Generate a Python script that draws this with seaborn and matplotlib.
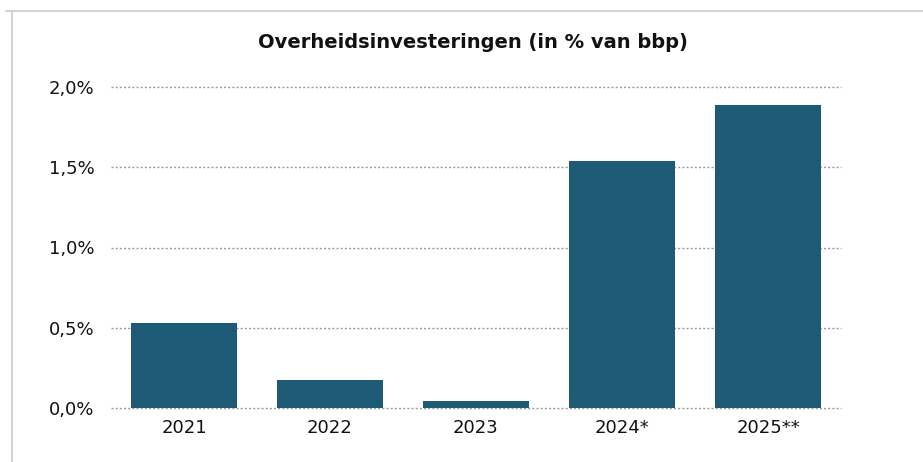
"""Overheidsinvesteringen (in % van bbp) - bar chart"""

import pandas as pd
import seaborn as sns
import matplotlib.pyplot as plt
from matplotlib.lines import Line2D
from matplotlib.ticker import FuncFormatter

years = ["2021", "2022", "2023", "2024*", "2025**"]
invest_pct = [0.53, 0.175, 0.044, 1.54, 1.89]
y_ticks = [0.0, 0.5, 1.0, 1.5, 2.0]

df = pd.DataFrame({"jaar": years, "pct": invest_pct})

sns.set_theme(style="whitegrid")
plt.rcParams["font.family"] = ["DejaVu Sans"]

fig = plt.figure(figsize=(9.23, 4.62), dpi=100)
ax = fig.add_axes([111 / 923, 1 - 408 / 462, 730 / 923, 321 / 462])

sns.barplot(data=df, x="jaar", y="pct", color="#1D5A75", saturation=1,
            width=0.73, linewidth=0, ax=ax, zorder=3)

ax.set_ylim(0, 2.0)
ax.set_xlim(-0.5, 4.5)
ax.set_yticks(y_ticks)
ax.yaxis.set_major_formatter(FuncFormatter(lambda v, _: f"{v:.1f}%".replace(".", ",")))
ax.set_xlabel("")
ax.set_ylabel("")
ax.grid(axis="x", visible=False)
ax.grid(axis="y", color="#9a9a9a", linestyle=(0, (1.5, 1.5)), linewidth=1.0, zorder=0)
for gl in ax.get_ygridlines():
    gl.set_clip_on(False)
for s in ax.spines.values():
    s.set_visible(False)
ax.tick_params(axis="both", length=0, labelsize=13, colors="#111111")
ax.tick_params(axis="y", pad=12)
ax.tick_params(axis="x", pad=8)

fig.text(0.512, 1 - 42 / 462, "Overheidsinvesteringen (in % van bbp)",
         ha="center", va="center", fontsize=14, fontweight="bold", color="#111111")

# partial frame from the screenshot
fig.add_artist(Line2D([6 / 923, 1], [1 - 11 / 462, 1 - 11 / 462],
                      transform=fig.transFigure, color="#d4d4d4", linewidth=1.5))
fig.add_artist(Line2D([12 / 923, 12 / 923], [0, 1 - 11 / 462],
                      transform=fig.transFigure, color="#d4d4d4", linewidth=1.5))

fig.savefig("out.png", dpi=100)
